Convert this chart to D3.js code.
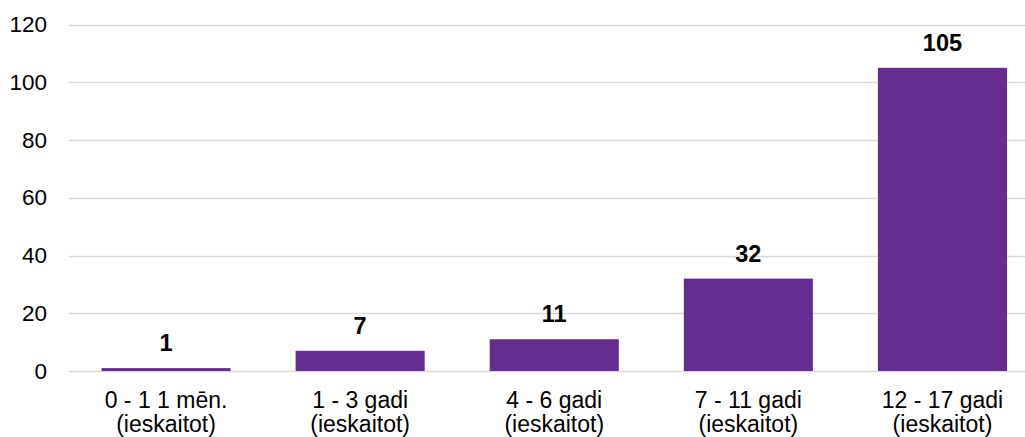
<!DOCTYPE html>
<html>
<head>
<meta charset="utf-8">
<script src="https://cdn.jsdelivr.net/npm/d3@7"></script>
<style>
  html, body { margin: 0; padding: 0; background: #fff; overflow: hidden; }
  svg { display: block; }
  text { font-family: "Liberation Sans", Arial, sans-serif; fill: #000; }
</style>
</head>
<body>
<svg id="chart" width="1025" height="437"></svg>
<script>
const categories = [
  ["0 - 1 1 mēn.", "(ieskaitot)"],
  ["1 - 3 gadi", "(ieskaitot)"],
  ["4 - 6 gadi", "(ieskaitot)"],
  ["7 - 11 gadi", "(ieskaitot)"],
  ["12 - 17 gadi", "(ieskaitot)"]
];
const values = [1, 7, 11, 32, 105];
const yTicks = [0, 20, 40, 60, 80, 100, 120];

(function draw() {
const svg = d3.select("#chart");
const plotLeft = 69, plotRight = 1039.5, plotTop = 24.5, plotBottom = 371;

const x = d3.scaleBand()
  .domain(d3.range(categories.length))
  .range([plotLeft, plotRight])
  .paddingInner(0.335)
  .paddingOuter(0.1675);

const y = d3.scaleLinear().domain([0, 120]).range([plotBottom, plotTop]);

// gridlines
svg.append("g")
  .selectAll("line")
  .data(yTicks)
  .join("line")
  .attr("x1", plotLeft)
  .attr("x2", plotRight)
  .attr("y1", d => Math.round(y(d)) + 0.5)
  .attr("y2", d => Math.round(y(d)) + 0.5)
  .attr("stroke", "#d9d9d9")
  .attr("stroke-width", 1.3);

// y axis labels
const yAxis = d3.axisLeft(y).tickValues(yTicks).tickSize(0).tickPadding(22);
const gy = svg.append("g").attr("transform", `translate(${plotLeft},0)`).call(yAxis);
gy.select(".domain").remove();
gy.selectAll("text")
  .attr("font-size", 22.5)
  .attr("font-family", "'Liberation Sans', Arial, sans-serif")
  .attr("fill", "#000");

// bars
svg.append("g")
  .selectAll("rect")
  .data(values)
  .join("rect")
  .attr("x", (d, i) => x(i))
  .attr("width", x.bandwidth())
  .attr("y", d => y(d))
  .attr("height", d => y(0) - y(d))
  .attr("fill", "#662d91");

// data labels
svg.append("g")
  .selectAll("text")
  .data(values)
  .join("text")
  .attr("x", (d, i) => x(i) + x.bandwidth() / 2)
  .attr("y", d => y(d) - 17)
  .attr("text-anchor", "middle")
  .attr("font-size", 23.5)
  .attr("font-weight", "bold")
  .text(d => d);

// category labels
const xAxis = d3.axisBottom(x).tickSize(0).tickFormat("");
const gx = svg.append("g").attr("transform", `translate(0,${plotBottom})`).call(xAxis);
gx.select(".domain").remove();
gx.selectAll(".tick").each(function(d) {
  const t = d3.select(this).append("text")
    .attr("text-anchor", "middle")
    .attr("font-size", 23)
    .attr("fill", "#000");
  categories[d].forEach((line, k) => {
    t.append("tspan").attr("x", 0).attr("y", 37 + k * 24).text(line);
  });
});
})();
</script>
</body>
</html>
